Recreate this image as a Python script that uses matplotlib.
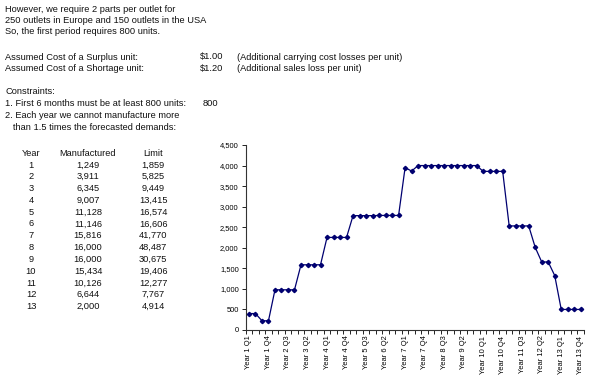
import matplotlib
matplotlib.use("Agg")
import matplotlib.pyplot as plt
from matplotlib.ticker import FuncFormatter, FixedLocator
import numpy as np

plt.rcParams['font.family'] = ['Liberation Sans', 'DejaVu Sans']

# yearly table
years = list(range(1, 14))
manufactured = [1249, 3911, 6345, 9007, 11128, 11146, 15816, 16000, 16000, 15434, 10126, 6644, 2000]
limit = [1859, 5825, 9449, 13415, 16574, 16606, 41770, 48487, 30675, 19406, 12277, 7767, 4914]

# quarterly production
quarterly = [400, 400, 225, 224,
             978, 978, 978, 977,
             1586, 1586, 1586, 1587,
             2252, 2252, 2252, 2251,
             2782, 2782, 2782, 2782,
             2786, 2787, 2786, 2787,
             3950, 3866, 4000, 4000,
             4000, 4000, 4000, 4000,
             4000, 4000, 4000, 4000,
             3858, 3859, 3858, 3859,
             2531, 2532, 2531, 2532,
             2010, 1655, 1655, 1324,
             500, 500, 500, 500]
quarter_labels = ["Year %d Q%d" % (y, q) for y in years for q in range(1, 5)]

intro_lines = ["However, we require 2 parts per outlet for",
               "250 outlets in Europe and 150 outlets in the USA",
               "So, the first period requires 800 units."]
cost_rows = [("Assumed Cost of a Surplus unit:", "$1.00", "(Additional carrying cost losses per unit)"),
             ("Assumed Cost of a Shortage unit:", "$1.20", "(Additional sales loss per unit)")]
constraint_lines = ["Constraints:",
                    "1. First 6 months must be at least 800 units:",
                    "2. Each year we cannot manufacture more",
                    "   than 1.5 times the forecasted demands:"]

W, H = 600, 384
fig = plt.figure(figsize=(6, 3.84), dpi=100)
fs = 6.7

def put(x, y, s, ha='left'):
    fig.text(x / W, 1 - y / H, s, fontsize=fs, ha=ha, va='center', color='#111111')

for i, s in enumerate(intro_lines):
    put(5, 9 + i * 11.5, s)
for i, (a, b, c) in enumerate(cost_rows):
    put(5, 57 + i * 11.5, a)
    put(200, 57 + i * 11.5, b)
    put(237, 57 + i * 11.5, c)
for i, s in enumerate(constraint_lines):
    put(5, 91 + i * 12, s)
put(203, 103, "800")

put(31, 153, "Year", 'center')
put(88, 153, "Manufactured", 'center')
put(153, 153, "Limit", 'center')
for i in range(len(years)):
    yy = 165 + i * 11.8
    put(31, yy, str(years[i]), 'center')
    put(88, yy, format(manufactured[i], ','), 'center')
    put(153, yy, format(limit[i], ','), 'center')

# chart
ax = fig.add_axes([245.7 / W, 1 - 330 / H, (584 - 245.7) / W, (330 - 145) / H])
x = np.arange(len(quarterly))
ax.plot(x, quarterly, color='#000070', lw=0.9, marker='D', ms=2.2)
ax.set_xlim(-0.5, len(quarterly) - 0.5)
ax.set_ylim(0, 4500)
ax.set_yticks(np.arange(0, 4501, 500))
ax.yaxis.set_major_formatter(FuncFormatter(lambda v, p: format(int(v), ',')))
ax.set_xticks(x[::3])
ax.set_xticklabels(quarter_labels[::3], rotation=90, fontsize=5.4)
ax.xaxis.set_minor_locator(FixedLocator(np.arange(-0.5, len(quarterly), 1)))
ax.tick_params(axis='x', which='major', length=0, pad=4)
ax.tick_params(axis='x', which='minor', length=3, width=0.6)
ax.tick_params(axis='y', labelsize=5.4, length=3, width=0.6, pad=2)
for side in ['top', 'right']:
    ax.spines[side].set_visible(False)
for side in ['left', 'bottom']:
    ax.spines[side].set_linewidth(0.8)
    ax.spines[side].set_color('#333333')

fig.savefig("out.png", dpi=100)
